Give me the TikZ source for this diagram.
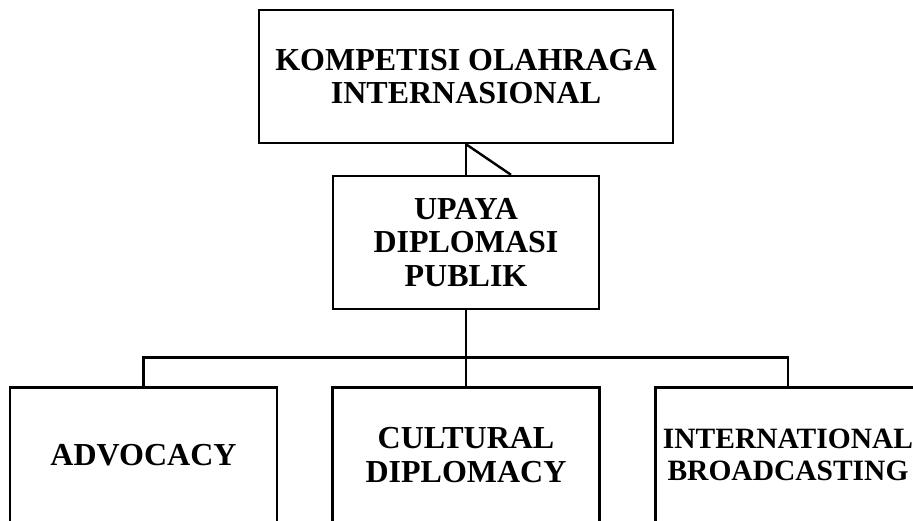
\documentclass[tikz,border=0pt]{standalone}
\usepackage{fontspec}
\setmainfont{Liberation Serif}
\usetikzlibrary{calc}
\begin{document}
\begin{tikzpicture}[x=1pt,y=-1pt,
  box/.style={draw,line width=2.4pt,rectangle,inner sep=0pt,minimum height=133pt,align=center,
    font=\fontsize{32}{33.5}\selectfont\bfseries},
  lowbox/.style={box,minimum width=267pt,minimum height=135pt},
  conn/.style={line width=2.4pt}]
\useasboundingbox (0,0) rectangle (913,520);
\clip (0,0) rectangle (913,520);
\node[box,minimum width=414pt] (top) at (466,76.5) {KOMPETISI OLAHRAGA\\INTERNASIONAL};
\node[box,minimum width=266pt] (mid) at (466,242.5) {UPAYA\\DIPLOMASI\\PUBLIK};
\node[lowbox] (c1) at (143.5,455) {ADVOCACY\vphantom{Y}};
\node[lowbox] (c2) at (466,455) {CULTURAL\\DIPLOMACY};
\node[lowbox,minimum width=265pt,font=\fontsize{29.5}{32.5}\selectfont\bfseries] (c3) at (788,455) {INTERNATIONAL\\BROADCASTING};
\coordinate (diagend) at ($(mid.north)+(45,0)$);
\draw[conn] (top.south) -- (mid.north);
\draw[conn] (top.south) -- (diagend);
\draw[conn] (mid.south) -- (c2.north);
\draw[conn] (c1.north) -- ++(0,-29) -| (c3.north);
\end{tikzpicture}
\end{document}
